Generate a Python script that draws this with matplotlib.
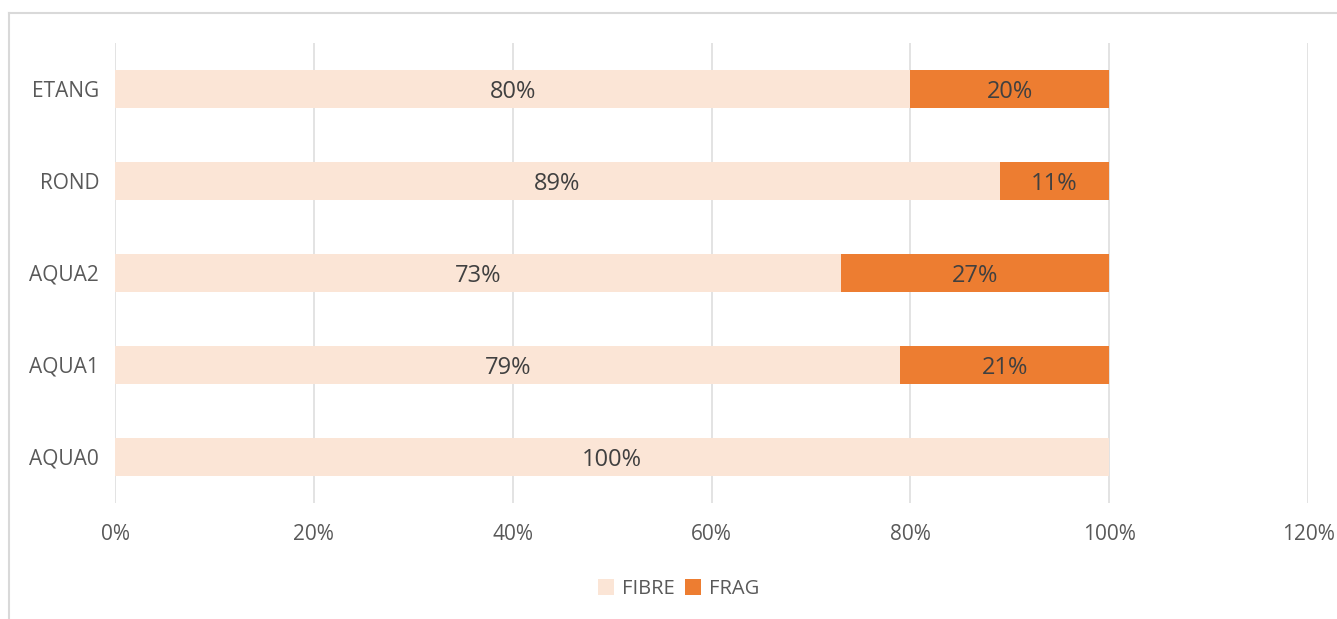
import matplotlib.pyplot as plt
from matplotlib.lines import Line2D
from matplotlib.ticker import FuncFormatter

plt.rcParams['font.family'] = ['Open Sans', 'DejaVu Sans']

sites = ['AQUA0', 'AQUA1', 'AQUA2', 'ROND', 'ETANG']
fibre = [100, 79, 73, 89, 80]
frag = [0, 21, 27, 11, 20]

fig = plt.figure(figsize=(13.37, 6.19), dpi=100)
ax = fig.add_axes([115 / 1337, 116 / 619, (1308 - 115) / 1337, (503 - 43) / 619])

ax.barh(sites, fibre, height=0.41, color='#FBE5D6', label='FIBRE', zorder=2)
ax.barh(sites, frag, left=fibre, height=0.41, color='#ED7D31', label='FRAG', zorder=2)

for i, (a, b) in enumerate(zip(fibre, frag)):
    ax.text(a / 2, i, f'{a}%', ha='center', va='center_baseline', fontsize=17, color='#404040', zorder=3)
    if b > 0:
        ax.text(a + b / 2, i, f'{b}%', ha='center', va='center_baseline', fontsize=17, color='#404040', zorder=3)

ax.set_xlim(0, 120)
ax.set_ylim(-0.5, 4.5)
ax.set_xticks(range(0, 121, 20))
ax.xaxis.set_major_formatter(FuncFormatter(lambda v, p: f'{v:.0f}%'))
ax.grid(axis='x', color='#E0E0E0', linewidth=1.3, zorder=0)
for s in ax.spines.values():
    s.set_visible(False)
ax.tick_params(length=0, labelsize=15, colors='#595959')
ax.tick_params(axis='x', pad=15)
ax.tick_params(axis='y', pad=11.5)

fig.legend(loc='center', bbox_to_anchor=(679 / 1337, 1 - 589 / 619), ncol=2, frameon=False,
           fontsize=14.5, handlelength=0.8, handleheight=0.8, handletextpad=0.4,
           columnspacing=0.5, labelcolor='#595959')

# outer chart frame
fig.add_artist(Line2D([9 / 1337, 1], [1 - 13 / 619, 1 - 13 / 619], color='#D9D9D9', lw=1.5))
fig.add_artist(Line2D([9 / 1337, 9 / 1337], [0, 1 - 13 / 619], color='#D9D9D9', lw=1.5))

fig.savefig('out.png', dpi=100)
